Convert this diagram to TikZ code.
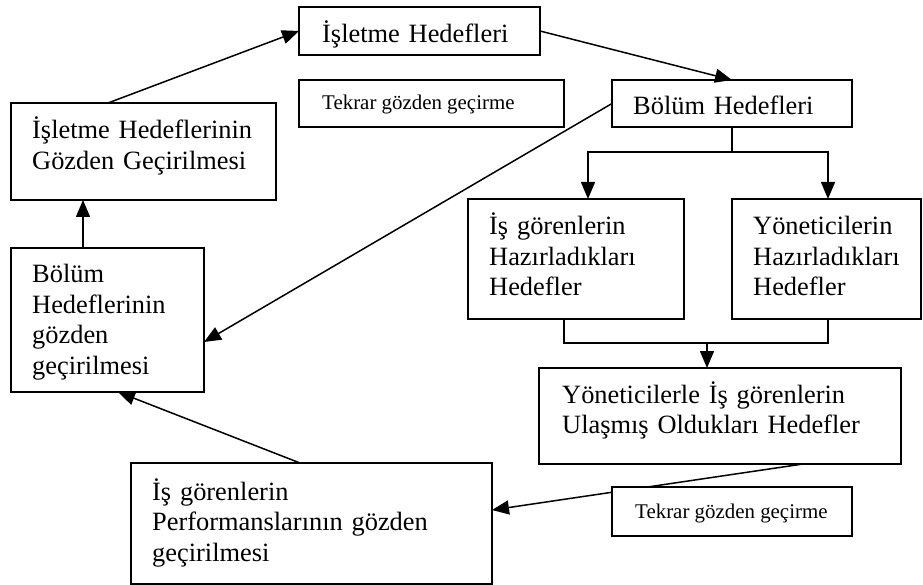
\documentclass[tikz,border=0pt]{standalone}
\usepackage{fontspec}
\setmainfont{Liberation Serif}
\usetikzlibrary{arrows.meta,calc}
\begin{document}
\begin{tikzpicture}[x=1pt,y=-1pt,
  box/.style={draw=black,line width=1.7pt,fill=white,rectangle,inner sep=0pt,outer sep=0pt},
  big/.style={anchor=base west,inner sep=0pt,text width=#1,align=left,font=\fontsize{26.4}{30.5}\selectfont},
  small/.style={anchor=base west,inner sep=0pt,font=\fontsize{20.9}{24}\selectfont},
  conn/.style={line width=1.5pt,draw=black},
  arr/.style={conn,-{Triangle[length=17pt,width=14pt]}}]
\useasboundingbox (0,0) rectangle (923,585);

\coordinate (s1) at (732,152);
\coordinate (m1) at (707,343);

% boxes
\node[box,minimum width=241pt,minimum height=48pt] (ih) at (419.5,31) {};
\node[box,minimum width=265pt,minimum height=47pt] (tg1) at (431.5,103.5) {};
\node[box,minimum width=265pt,minimum height=97pt] (igg) at (143.5,151.5) {};
\node[box,minimum width=193pt,minimum height=144pt] (bgg) at (107.5,320) {};
\node[box,minimum width=240pt,minimum height=47pt] (bh) at (732,103.5) {};
\node[box,minimum width=216pt,minimum height=120pt] (ig) at (576,259) {};
\node[box,minimum width=189pt,minimum height=120pt] (yh) at (826.5,259) {};
\node[box,minimum width=362pt,minimum height=96pt] (yi) at (720,416) {};
\node[box,minimum width=361pt,minimum height=121pt] (pp) at (311.5,523.5) {};

% connectors
\draw[arr] ([xshift=-35.5pt]igg.north) -- (ih.west);
\draw[arr] (ih.east) -- (bh.north);
\draw[arr] (bh.west) -- ([yshift=-22pt]bgg.east);
\draw[conn] (bh.south) -- (s1);
\draw[arr] (s1) -| ([xshift=12pt]ig.north);
\draw[arr] (s1) -| ([xshift=1.5pt]yh.north);
\draw[conn] ([xshift=-12pt]ig.south) |- (m1) -| ([xshift=1.5pt]yh.south);
\draw[arr] (m1) -- (m1 |- yi.north);
\draw[arr] ([xshift=83pt]yi.south) -- ([yshift=13.5pt]pp.east);
\draw[arr] ([xshift=-11.5pt]pp.north) -- ([xshift=10.5pt]bgg.south);
\draw[arr] ([xshift=-24.5pt]bgg.north) -- ([xshift=-24.5pt]bgg.north |- igg.south);

% box over connector
\node[box,minimum width=240pt,minimum height=49pt] (tg2) at (732,511.5) {};

% texts
\node[big=230pt] (tih) at (322,43) {İşletme Hedefleri};
\node[small] (ttg1) at (322,110) {Tekrar gözden geçirme};
\node[big=250pt] (tigg) at (32,139) {İşletme Hedeflerinin\\Gözden Geçirilmesi};
\node[big=170pt] (tbgg) at (32,283) {Bölüm\\Hedeflerinin\\gözden\\geçirilmesi};
\node[big=220pt] (tbh) at (633,115) {Bölüm Hedefleri};
\node[big=190pt] (tig) at (489,235) {İş görenlerin\\Hazırladıkları\\Hedefler};
\node[big=170pt] (tyh) at (753,235) {Yöneticilerin\\Hazırladıkları\\Hedefler};
\node[big=340pt] (tyi) at (562,403) {Yöneticilerle İş görenlerin\\Ulaşmış Oldukları Hedefler};
\node[small] (ttg2) at (635,518) {Tekrar gözden geçirme};
\node[big=335pt] (tpp) at (152,500) {İş görenlerin\\Performanslarının gözden\\geçirilmesi};
\end{tikzpicture}
\end{document}
